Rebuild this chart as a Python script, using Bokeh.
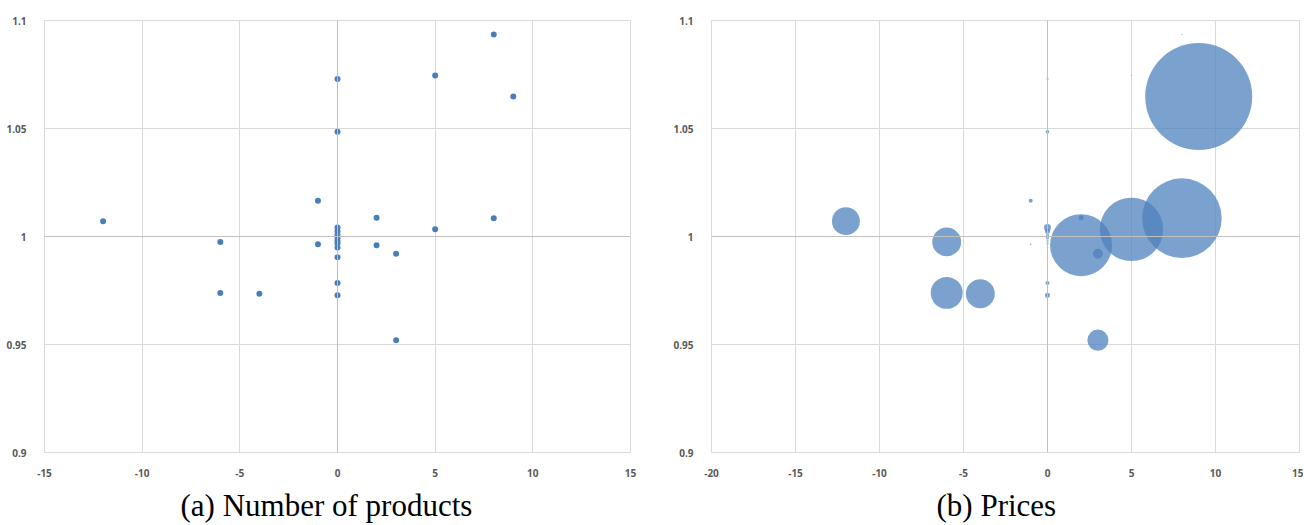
from bokeh.plotting import figure
from bokeh.layouts import row
from bokeh.models import (ColumnDataSource, FixedTicker, NumeralTickFormatter,
                          Span, Range1d, Title)
from bokeh.embed import file_html
from bokeh.resources import INLINE
import numpy as np

# ---- data ----
change = [-12, -6, -6, -4, -1, -1,
          0, 0, 0, 0, 0, 0, 0, 0, 0, 0, 0, 0,
          2, 2, 3, 3, 5, 5, 8, 8, 9]
ratio = [1.0071, 0.9975, 0.9739, 0.9735, 1.0165, 0.9964,
         1.0729, 1.0485, 1.0042, 1.0024, 1.0007, 0.9993, 0.9979, 0.9968,
         0.9949, 0.9904, 0.9785, 0.9728,
         1.0087, 0.9960, 0.9920, 0.9520, 1.0745, 1.0033, 1.0935, 1.0085, 1.0648]
price_weight = [6.8, 7.3, 8.9, 7.3, 0.14, 0.02,
                0.035, 0.11, 0.43, 0.22, 0.08, 0.08, 0.035, 0.035,
                0.02, 0.02, 0.14, 0.22,
                0.22, 33.6, 0.87, 3.9, 0.01, 35.2, 0.01, 55.3, 100.0]

x_ticks_a = [-15, -10, -5, 0, 5, 10, 15]
x_ticks_b = [-20, -15, -10, -5, 0, 5, 10, 15]
y_ticks = [0.9, 0.95, 1.0, 1.05, 1.1]

caption_a = "(a) Number of products"
caption_b = "(b) Prices"

GRID = "#d9d9d9"
AXIS = "#bfbfbf"
LABEL = "#595959"


def make_fig(xr, xticks, fw, left, right, caption, cap_offset):
    p = figure(output_backend="svg", toolbar_location=None,
               frame_width=fw, frame_height=432,
               x_range=Range1d(*xr), y_range=Range1d(0.9, 1.1),
               min_border_left=left, min_border_right=right,
               min_border_top=20, min_border_bottom=72,
               background_fill_color="white", border_fill_color="white")
    p.outline_line_color = GRID
    p.xaxis.ticker = FixedTicker(ticks=xticks)
    p.yaxis.ticker = FixedTicker(ticks=y_ticks)
    p.xaxis.formatter = NumeralTickFormatter(format="0")
    p.yaxis.formatter = NumeralTickFormatter(format="0.[00]")
    for ax in (p.xaxis, p.yaxis):
        ax.axis_line_color = None
        ax.major_tick_line_color = None
        ax.minor_tick_line_color = None
        ax.major_label_text_font = "Open Sans"
        ax.major_label_text_font_style = "bold"
        ax.major_label_text_font_size = "10px"
        ax.major_label_text_color = LABEL
    p.xaxis.major_label_standoff = 10
    p.yaxis.major_label_standoff = 12
    p.xgrid.grid_line_color = GRID
    p.ygrid.grid_line_color = GRID
    p.add_layout(Span(location=0, dimension="height", line_color=AXIS, line_width=1))
    p.add_layout(Span(location=1.0, dimension="width", line_color=AXIS, line_width=1))
    t = Title(text=caption, align="left", offset=cap_offset,
              text_font="Liberation Serif", text_font_size="31px",
              text_font_style="normal", text_color="black", standoff=12)
    p.add_layout(t, "below")
    return p


src = ColumnDataSource(dict(x=change, y=ratio,
                            d=[10.7 * np.sqrt(w) for w in price_weight]))

p1 = make_fig((-15, 15), x_ticks_a, 586, 44, 20, caption_a, 136)
p1.scatter("x", "y", source=src, size=6, fill_color="#4a7ebb",
           line_color=None)

p2 = make_fig((-20, 15), x_ticks_b, 588, 61, 4, caption_b, 225)
p2.scatter("x", "y", source=src, size="d", fill_color="#4f81bd",
           fill_alpha=0.75, line_color=None)

layout = row(p1, p2, spacing=0)
open("out.html", "w").write(file_html(layout, INLINE))
